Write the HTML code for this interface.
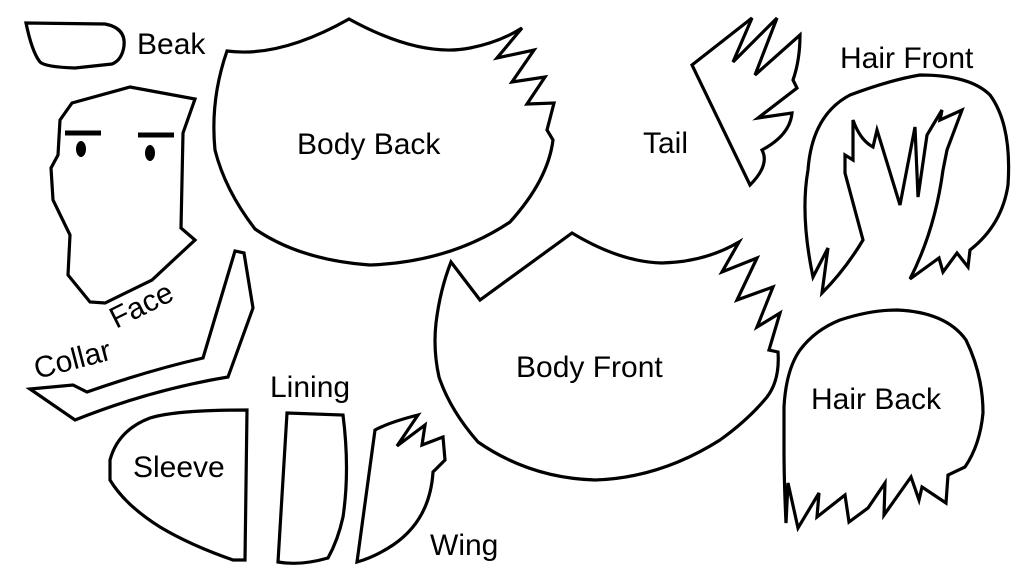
<!DOCTYPE html>
<html><head><meta charset="utf-8"><style>
html,body{margin:0;padding:0;background:#fff;}
svg{display:block}
text{font-family:"Liberation Sans",Arial,sans-serif;font-size:30px;fill:#000}
</style></head><body>
<svg width="1024" height="576" viewBox="0 0 1024 576" xmlns="http://www.w3.org/2000/svg">
<g fill="none" stroke="#000" stroke-width="3.2" stroke-linejoin="miter">
<!-- Beak -->
<path d="M26,23 L105,24 Q126,28 124,46 Q122,60 112,64 L75,68 Q45,67 40,62 Q32,52 26,23 Z"/>
<!-- Face -->
<path d="M130,87 L195,99 L183,133 L181,228 L195,240 L152,280 L105,303 L90,302 L68,275 L70,235 L53,200 L51,168 L58,155 L60,120 L72,103 Z"/>
<!-- Body Back -->
<path d="M227,51 Q280,58 349,19 Q420,58 470,48 Q500,42 522,28 L497,58 L534,50 L512,82 L545,77 L527,104 L554,103 L547,130 L553,140 Q548,180 510,222 Q450,262 370,265 Q300,260 255,229 Q225,190 215,150 Q210,100 227,51 Z"/>
<!-- Tail -->
<path d="M692,65 L752,18 L733,62 L777,18 L755,75 L800,35 Q800,60 793,80 L797,88 L758,118 L792,113 Q790,135 762,150 Q770,165 750,185 Z"/>
<!-- Hair Front -->
<path d="M813,277 Q800,215 808,170 Q812,115 850,95 Q890,80 920,75 Q970,75 990,95 Q1012,125 1008,185 Q1002,225 970,250 L968,267 L957,253 L943,272 L939,258 L910,279 Q935,230 943,170 L947,150 L962,110 L940,120 L942,110 L927,135 L918,197 L915,127 L900,205 L877,130 L873,147 Q860,140 853,120 L853,160 L845,155 L845,173 L863,240 Q845,270 822,293 L828,248 Z"/>
<!-- Collar -->
<path d="M30,389 L73,385 L87,392 Q150,370 203,358 L235,251 L244,253 L253,308 L228,377 Q150,390 75,420 Z"/>
<!-- Body Front -->
<path d="M451,262 L480,300 L572,233 Q620,262 662,263 Q705,262 739,242 L722,272 L757,258 L737,300 L773,287 L757,327 L780,313 L769,350 L778,352 Q780,380 767,397 Q748,420 720,440 Q660,478 595,480 Q530,478 478,442 Q450,410 439,377 Q433,350 436,323 Q440,290 451,262 Z"/>
<!-- Hair Back -->
<path d="M897,310 Q946,312 966,340 Q983,375 983,413 Q980,445 965,467 L948,475 L946,503 L922,487 L919,500 L911,477 L884,515 L885,483 L868,508 L849,522 L845,495 L817,517 L819,493 L798,528 L788,483 L786,523 Q784,480 784,450 L784,407 Q786,370 800,350 Q815,330 840,320 Q870,310 897,310 Z"/>
<!-- Sleeve -->
<path d="M247,410 L245,560 L233,560 Q190,545 160,527 Q125,505 110,480 L110,460 Q118,430 150,418 Q175,410 247,410 Z"/>
<!-- Lining -->
<path d="M287,413 L343,415 Q350,470 343,517 Q338,540 328,558 Q300,566 278,562 Z"/>
<!-- Wing -->
<path d="M375,430 Q390,422 418,415 L397,446 L425,425 L422,445 L443,437 L445,460 L433,472 Q430,520 393,545 Q375,557 357,562 Z"/>
<!-- eyebrows -->
<line x1="65" y1="133" x2="101" y2="133" stroke-width="5"/>
<line x1="138" y1="135" x2="174" y2="135" stroke-width="5"/>
</g>
<ellipse cx="81" cy="149" rx="5" ry="8" fill="#000"/>
<ellipse cx="150" cy="153" rx="5" ry="8" fill="#000"/>
<text x="137" y="54">Beak</text>
<text x="297" y="154">Body Back</text>
<text x="643" y="153">Tail</text>
<text x="840" y="68">Hair Front</text>
<text x="516" y="377">Body Front</text>
<text x="811" y="409">Hair Back</text>
<text x="270" y="397">Lining</text>
<text x="133" y="477">Sleeve</text>
<text x="430" y="555">Wing</text>
<text transform="translate(116,329) rotate(-26.5)">Face</text>
<text transform="translate(37,379) rotate(-14.6)">Collar</text>
</svg>
</body></html>
